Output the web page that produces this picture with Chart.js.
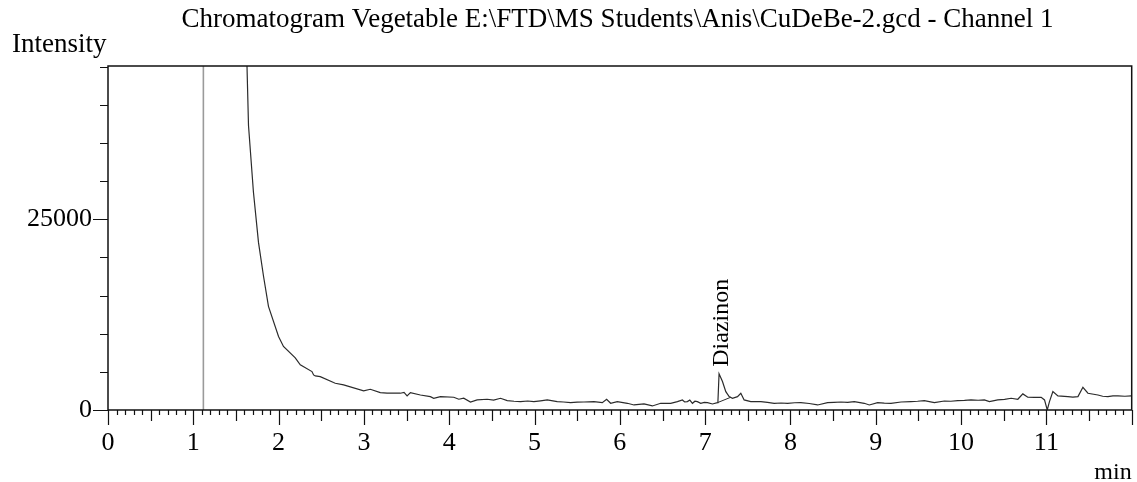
<!DOCTYPE html>
<html>
<head>
<meta charset="utf-8">
<script src="https://cdn.jsdelivr.net/npm/chart.js@4"></script>
<style>
  html, body { margin:0; padding:0; background:#fff; }
  canvas { display:block; }
</style>
</head>
<body>
<canvas id="chromatogram" width="1137" height="482" style="width:1137px;height:482px"></canvas>
<script>
// retention time (min) and detector intensity
const times = [
  1.625, 1.647, 1.705, 1.764, 1.823, 1.881, 1.999, 2.057, 2.195, 2.254,
  2.391, 2.41, 2.43, 2.488, 2.644, 2.664, 2.762, 2.997, 3.075, 3.192,
  3.271, 3.369, 3.427, 3.47, 3.506, 3.545, 3.662, 3.779, 3.818, 3.897,
  4.053, 4.112, 4.17, 4.249, 4.327, 4.445, 4.52, 4.601, 4.68, 4.76,
  4.836, 4.92, 4.992, 5.07, 5.149, 5.266, 5.34, 5.423, 5.5, 5.579,
  5.696, 5.794, 5.845, 5.892, 5.97, 6.088, 6.166, 6.283, 6.381, 6.479,
  6.596, 6.675, 6.733, 6.76, 6.792, 6.82, 6.851, 6.88, 6.909, 6.948,
  6.99, 7.027, 7.086, 7.144, 7.15, 7.163, 7.203, 7.242, 7.281, 7.32,
  7.379, 7.418, 7.457, 7.535, 7.653, 7.73, 7.809, 7.89, 7.966, 8.05,
  8.122, 8.22, 8.318, 8.435, 8.51, 8.592, 8.67, 8.748, 8.865, 8.924,
  9.022, 9.1, 9.178, 9.296, 9.413, 9.49, 9.569, 9.687, 9.804, 9.88,
  9.961, 10.04, 10.117, 10.2, 10.273, 10.332, 10.43, 10.51, 10.587, 10.665,
  10.724, 10.782, 10.86, 10.939, 10.978, 11.01, 11.036, 11.076, 11.135, 11.252,
  11.31, 11.37, 11.428, 11.487, 11.604, 11.66, 11.721, 11.78, 11.839, 11.92,
  11.995
];
const intensity = [
  47000, 37300, 28550, 21970, 17540, 13590, 9645, 8330, 6840, 5920,
  5040, 4600, 4470, 4380, 3600, 3510, 3290, 2500, 2720, 2280,
  2200, 2200, 2200, 2300, 1840, 2280, 1970, 1750, 1540, 1750,
  1670, 1410, 1540, 1050, 1320, 1410, 1300, 1540, 1230, 1150,
  1100, 1180, 1100, 1200, 1320, 1100, 1050, 960, 1020, 1050,
  1100, 960, 1410, 880, 1100, 880, 660, 790, 530, 880,
  880, 1100, 1320, 1050, 1100, 1300, 880, 1150, 1100, 880,
  1000, 960, 790, 960, 1200, 4740, 3730, 2410, 1750, 1540,
  1750, 2200, 1320, 1100, 1100, 1000, 880, 920, 880, 950,
  960, 850, 660, 960, 1000, 1050, 1000, 1100, 880, 660,
  960, 900, 880, 1050, 1100, 1150, 1230, 960, 1180, 1150,
  1230, 1250, 1320, 1280, 1320, 1100, 1320, 1400, 1540, 1410,
  2110, 1670, 1650, 1670, 1320, 0, 1100, 2410, 1840, 1750,
  1700, 1750, 2980, 2200, 1970, 1800, 1750, 1850, 1840, 1800,
  1840
];

// solvent peak, off scale
const solventTimes = [1.115, 1.118];
const solventIntensity = [0, 60000];

// integration baseline under the Diazinon peak
const baselineTimes = [7.144, 7.30];
const baselineIntensity = [960, 1670];

// peak labels
const peakNames = ["Diazinon"];
const peakTimes = [7.163];
const peakHeights = [4740];

// axis labels
const xTickLabels = [0, 1, 2, 3, 4, 5, 6, 7, 8, 9, 10, 11];
const yTickLabels = [0, 25000];

const chartTitle = "Chromatogram Vegetable E:\\FTD\\MS Students\\Anis\\CuDeBe-2.gcd - Channel 1";
const serif = "'Liberation Serif', 'Times New Roman', serif";

function toPoints(xs, ys) {
    return xs.map((t, i) => ({ x: t, y: ys[i] }));
}

const frameTicks = {
    id: "frameTicks",
    afterDraw(chart) {
        const ctx = chart.ctx;
        const a = chart.chartArea;
        const x = chart.scales.x;
        const y = chart.scales.y;
        ctx.save();

        // title, centred a little right of the page centre like the original
        ctx.fillStyle = "#000";
        ctx.font = "27px " + serif;
        ctx.textAlign = "center";
        ctx.textBaseline = "middle";
        ctx.fillText(chartTitle, 617.5, 20);

        ctx.strokeStyle = "#111";
        ctx.lineWidth = 1.5;
        ctx.strokeRect(a.left, a.top, a.right - a.left, a.bottom - a.top);

        // tick marks: 0.1 min minor, 0.5 min medium, 1 min major
        ctx.lineWidth = 1.2;
        ctx.beginPath();
        for (let i = 0; i <= 120; i++) {
            const px = Math.round(x.getPixelForValue(i / 10)) + 0.5;
            const len = i % 10 === 0 ? 15 : (i % 5 === 0 ? 11 : 5);
            ctx.moveTo(px, a.bottom);
            ctx.lineTo(px, a.bottom + len);
        }
        for (let v = 0; v <= y.max; v += 5000) {
            const py = Math.round(y.getPixelForValue(v)) + 0.5;
            const len = v % 25000 === 0 ? 15 : 8;
            ctx.moveTo(a.left, py);
            ctx.lineTo(a.left - len, py);
        }
        ctx.stroke();

        // peak names, written upward above the peak
        ctx.font = "24px " + serif;
        ctx.textAlign = "left";
        peakNames.forEach((name, i) => {
            const px = x.getPixelForValue(peakTimes[i]);
            const py = y.getPixelForValue(peakHeights[i]);
            ctx.save();
            ctx.translate(px + 3, py - 7);
            ctx.rotate(-Math.PI / 2);
            ctx.fillText(name, 0, 0);
            ctx.restore();
        });
        ctx.restore();
    }
};

new Chart(document.getElementById("chromatogram"), {

    type: "line",

    data: {
        datasets: [
            {
                data: toPoints(times, intensity),
                borderColor: "#2b2b2b",
                borderWidth: 1.2,
                pointRadius: 0,
                tension: 0
            },
            {
                data: toPoints(solventTimes, solventIntensity),
                borderColor: "#9a9a9a",
                borderWidth: 1.6,
                pointRadius: 0
            },
            {
                data: toPoints(baselineTimes, baselineIntensity),
                borderColor: "#2b2b2b",
                borderWidth: 1,
                pointRadius: 0
            }
        ]
    },

    options: {
        responsive: false,
        animation: false,
        devicePixelRatio: 1,
        layout: {
            padding: { left: 12, right: 5.3, top: 0, bottom: 0 }
        },
        plugins: {
            legend: { display: false },
            tooltip: { enabled: false },
            title: { display: false },
            subtitle: {
                display: true,
                text: "Intensity",
                align: "start",
                color: "#000",
                font: { family: serif, size: 27, weight: "normal", lineHeight: 1 },
                padding: { top: 31.5, bottom: 7.5 }
            }
        },
        scales: {
            x: {
                type: "linear",
                min: 0,
                max: 12,
                afterBuildTicks(scale) {
                    scale.ticks = xTickLabels.map(v => ({ value: v }));
                },
                afterFit(scale) {
                    scale.height = 72;
                    scale.paddingLeft = 0;
                    scale.paddingRight = 0;
                },
                grid: { display: false, drawTicks: false },
                border: { display: false },
                ticks: {
                    autoSkip: false,
                    maxRotation: 0,
                    padding: 18,
                    color: "#000",
                    font: { family: serif, size: 26 },
                    callback: v => String(v)
                },
                title: {
                    display: true,
                    text: "min",
                    align: "end",
                    color: "#000",
                    font: { family: serif, size: 24, lineHeight: 0.8 },
                    padding: { top: 0, bottom: 0 }
                }
            },
            y: {
                min: 0,
                max: 45100,
                afterBuildTicks(scale) {
                    scale.ticks = yTickLabels.map(v => ({ value: v }));
                },
                afterFit(scale) {
                    scale.width = 96;
                    scale.paddingTop = 0;
                    scale.paddingBottom = 0;
                },
                grid: { display: false, drawTicks: false },
                border: { display: false },
                ticks: {
                    autoSkip: false,
                    padding: 16,
                    color: "#000",
                    font: { family: serif, size: 26 },
                    callback: v => String(v)
                }
            }
        }
    },

    plugins: [frameTicks]

});
</script>
</body>
</html>
